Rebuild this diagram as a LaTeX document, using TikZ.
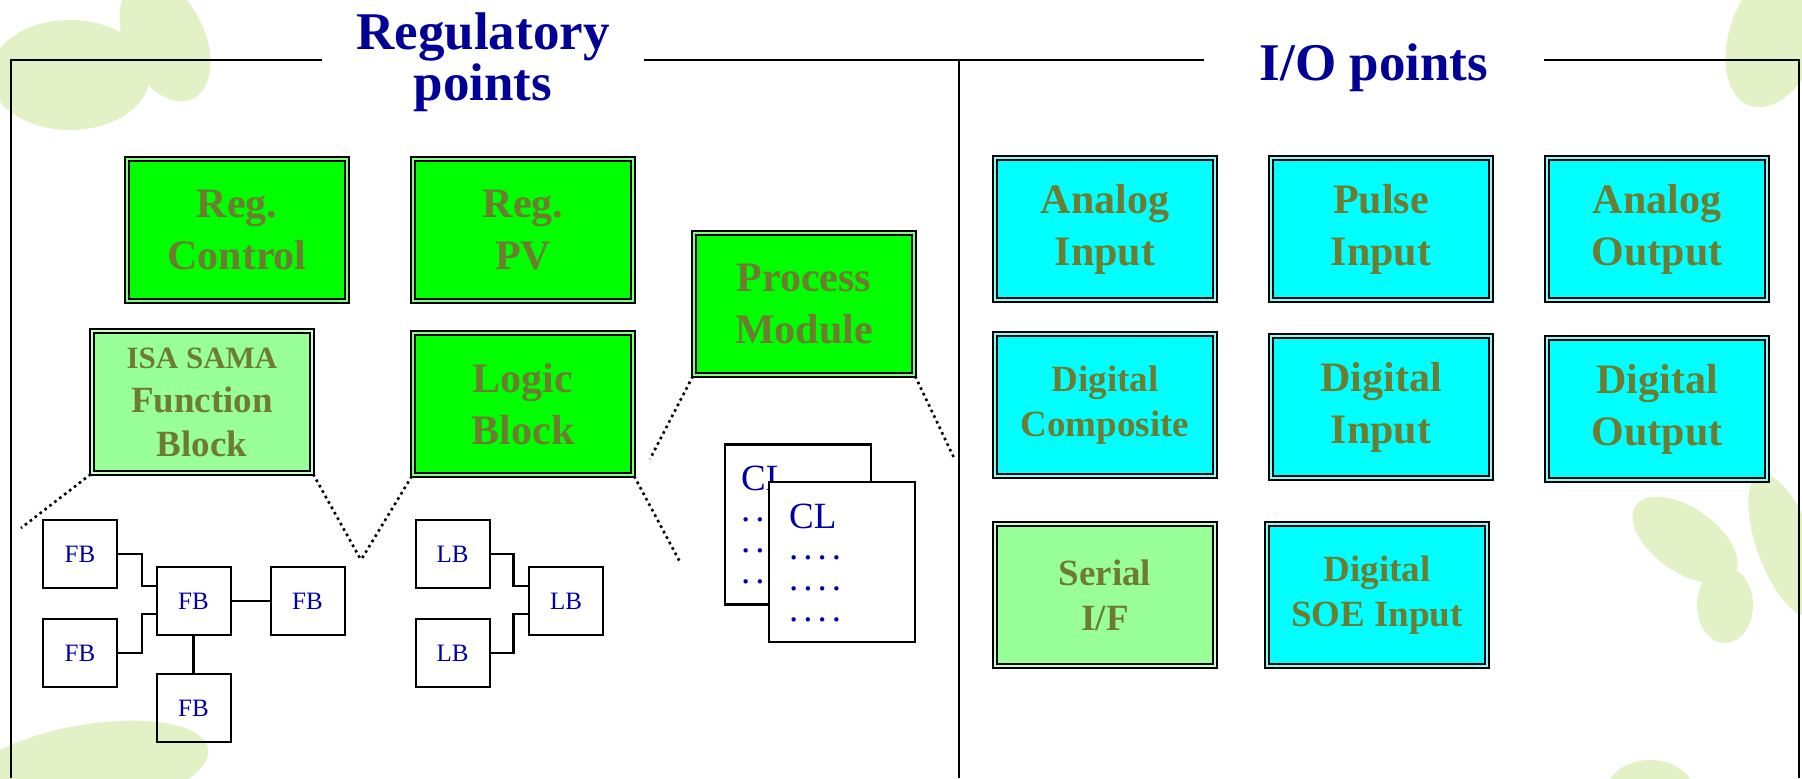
\documentclass[tikz,border=0pt]{standalone}
\usepackage{fontspec}
\setmainfont{Liberation Serif}
\usetikzlibrary{positioning}

\definecolor{titleBlue}{RGB}{0,0,150}
\definecolor{labelOlive}{RGB}{110,124,50}
\definecolor{regGreen}{RGB}{0,255,0}
\definecolor{paleGreen}{RGB}{153,255,153}
\definecolor{ioCyan}{RGB}{0,255,255}
\definecolor{leafGreen}{RGB}{226,241,198}
\definecolor{blockBlue}{RGB}{0,0,165}

\newcommand{\clDots}{.\kern2.5pt.\kern2.5pt.\kern2.5pt.}
\newcommand{\clDotsHidden}{.\kern2.5pt.}

\begin{document}
\begin{tikzpicture}
[
x=0.5pt, y=-0.5pt,
point/.style={rectangle, draw=black, line width=1.2pt, double=#1!50!white, double distance=1pt, fill=#1, minimum width=110pt, minimum height=71pt, align=center, text=labelOlive, font=\fontsize{21}{26}\selectfont\bfseries},
small/.style={font=\fontsize{18.5}{22.5}\selectfont\bfseries},
title/.style={fill=white, text=titleBlue, align=center, font=\fontsize{26.5}{25.5}\selectfont\bfseries},
block/.style={rectangle, draw=black, line width=1pt, minimum width=37pt, minimum height=34pt, text=blockBlue, font=\fontsize{12.5}{15}\selectfont},
page/.style={rectangle, draw=black, line width=1.2pt, fill=white, minimum width=73pt, minimum height=80pt},
cltext/.style={align=left, inner sep=0pt, text=blockBlue, font=\fontsize{18.5}{15.5}\selectfont},
link/.style={line width=1.2pt},
zoom/.style={line width=1.3pt, dash pattern=on 1.3pt off 1.8pt},
leaf/.style={fill=leafGreen}
]
\useasboundingbox (0,0) rectangle (1802,778);
\fill[white] (0,0) rectangle (1802,778);

%Background
\fill[leaf] (70,75) ellipse [x radius=80, y radius=55];
\fill[leaf, rotate around={25:(165,40)}] (165,40) ellipse [x radius=40, y radius=65];
\fill[leaf, rotate around={-20:(1775,35)}] (1775,35) ellipse [x radius=45, y radius=75];
\fill[leaf, rotate around={10:(85,770)}] (85,770) ellipse [x radius=125, y radius=45];
\fill[leaf, rotate around={-35:(1685,540)}] (1685,540) ellipse [x radius=60, y radius=32];
\fill[leaf] (1725,605) ellipse [x radius=28, y radius=38];
\fill[leaf, rotate around={20:(1785,545)}] (1785,545) ellipse [x radius=28, y radius=75];
\fill[leaf] (1650,795) ellipse [x radius=45, y radius=35];

%Frame
\draw[line width=1pt] (11,778) -- (11,60) -- (1799,60) -- (1799,778);
\draw[line width=1pt] (959,60) -- (959,778);

%Titles
\node[title, inner xsep=17pt, inner ysep=2pt] (regTitle) at (483,62) {Regulatory\\points};
\node[title, inner ysep=0pt, text height=40pt, text depth=13.5pt, minimum width=170pt] (ioTitle) at (1374,53.5) {I/O points};

%Nodes
\node[point=regGreen]   (regCtrl)  at (237,230)                        {Reg.\\Control};
\node[point=regGreen]   (regPV)    [node distance=143pt, right of=regCtrl] {Reg.\\PV};
\node[point=regGreen]   (procMod)  at (804,304)                        {Process\\Module};
\node[point=paleGreen, small, font=\fontsize{18.5}{22}\selectfont\bfseries]
                        (samaFB)   at (202,402)                        {{\fontsize{15.5}{22}\selectfont ISA SAMA}\\Function\\Block};
\node[point=regGreen]   (logicBlk) [node distance=87pt, below of=regPV] {Logic\\Block};

\node[point=ioCyan]     (anaIn)    at (1105,229)                       {Analog\\Input};
\node[point=ioCyan]     (pulseIn)  [node distance=138pt, right of=anaIn]   {Pulse\\Input};
\node[point=ioCyan]     (anaOut)   [node distance=138pt, right of=pulseIn] {Analog\\Output};
\node[point=ioCyan, small] (digComp) [node distance=88pt, below of=anaIn]  {Digital\\Composite};
\node[point=ioCyan]     (digIn)    [node distance=89pt, below of=pulseIn]  {Digital\\Input};
\node[point=ioCyan]     (digOut)   [node distance=90pt, below of=anaOut]   {Digital\\Output};
\node[point=paleGreen, small] (serialIF) [node distance=95pt, below of=digComp] {Serial\\I/F};
\node[point=ioCyan, small] (soeIn) [node distance=136pt, right of=serialIF]  {Digital\\SOE Input};

\node[block]    (fbA)      at (80,554)                          {FB};
\node[block]    (fbB)      [node distance=49.5pt, below of=fbA] {FB};
\node[block]    (fbMain)   at (193.5,601)                       {FB};
\node[block]    (fbRight)  [node distance=57pt, right of=fbMain]   {FB};
\node[block]    (fbBottom) [node distance=53.5pt, below of=fbMain] {FB};

\node[block]    (lbA)      at (452.5,554)                       {LB};
\node[block]    (lbB)      [node distance=49.5pt, below of=lbA] {LB};
\node[block]    (lbMain)   at (566,601)                         {LB};

% back sheet mostly hidden by the front one
\node[page]     (clBack)   at (798,524.5)                       {};
\node[cltext, anchor=north west] (clBackText) at ([xshift=8.5pt,yshift=-11pt]clBack.north west) {CL\\\clDotsHidden\\\clDotsHidden\\\clDotsHidden};
\node[page]     (clFront)  at (842,562)                         {};
\node[cltext, anchor=north west] (clFrontText) at ([xshift=10.5pt,yshift=-11.5pt]clFront.north west) {CL\\\clDots\\\clDots\\\clDots};

\coordinate (samaLeft)  at (21,528);
\coordinate (samaDip)   at (361,560);
\coordinate (logicEnd)  at (680,562);
\coordinate (procLeft)  at (650,459);
\coordinate (procRight) at (955,460);

%Lines
\draw[link] (fbA.east) -- ++(24,0) |- ([yshift=7.5pt]fbMain.west);
\draw[link] (fbB.east) -- ++(24,0) |- ([yshift=-6.5pt]fbMain.west);
\draw[link] (fbMain.east) -- (fbRight.west);
\draw[link] (fbMain.south) -- (fbBottom.north);
\draw[link] (lbA.east) -- ++(23,0) |- ([yshift=7.5pt]lbMain.west);
\draw[link] (lbB.east) -- ++(23,0) |- ([yshift=-6.5pt]lbMain.west);

\draw[zoom] (samaFB.south west) -- (samaLeft);
\draw[zoom] (samaFB.south east) -- (samaDip);
\draw[zoom] (logicBlk.south west) -- (samaDip);
\draw[zoom] (logicBlk.south east) -- (logicEnd);
\draw[zoom] (procMod.south west) -- (procLeft);
\draw[zoom] (procMod.south east) -- (procRight);

\end{tikzpicture}
\end{document}
